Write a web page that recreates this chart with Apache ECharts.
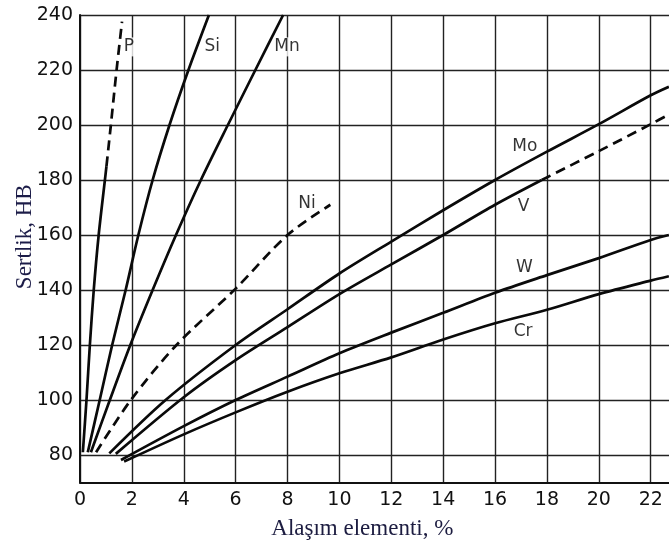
<!DOCTYPE html>
<html><head><meta charset="utf-8">
<script src="https://cdn.jsdelivr.net/npm/echarts@6/dist/echarts.min.js"></script>
<style>html,body{margin:0;padding:0;background:#fff}#c{width:669px;height:545px}</style>
</head><body><div id="c"></div>
<script>
// axis ticks
const xTicks = [0,2,4,6,8,10,12,14,16,18,20,22,24];
const yTicks = [80,100,120,140,160,180,200,220,240];

// curves (alloying element %, hardness HB)
const pSolidX = [0.11,0.25,0.38,0.53,0.72,0.96,1.02];
const pSolidY = [81,100,120,140,160,180,185];
const pDashX  = [1.02,1.19,1.41,1.62];
const pDashY  = [185,200,220,237.6];

const siX = [0.30,0.76,1.24,1.76,2.25,2.80,3.45,4.18,4.97];
const siY = [81,100,120,140,160,180,200,220,240];

const mnX = [0.42,1.15,1.94,2.80,3.70,4.66,5.70,6.76,7.83];
const mnY = [81,100,120,140,160,180,200,220,240];

const niX = [0.62,1.96,3.72,6.00,8.00,9.65];
const niY = [81,100,120,140.5,160,171];

const moX = [1.13,3.3,6,8,10,12,14,16,18,20,22,22.7];
const moY = [80.6,100,120,133,146,157.6,169,180,190.3,200.3,210.8,213.9];

const vSolidX = [1.38,4,6,8,10,12,14,16,17.8];
const vSolidY = [80.4,101,114.5,126.5,138.5,149.3,160,171,180];
const vDashX  = [17.8,20,22,22.7];
const vDashY  = [180,190.5,200.3,203.8];

const wX = [1.58,4,6,8,10,12,14,16,18,20,22,22.7];
const wY = [78.2,90.5,100,108.5,117,124.5,131.7,139,145.4,151.6,158.2,160];

const crX = [1.7,4,6,8,10,12,14,16,18,20,22,22.7];
const crY = [77.6,87.5,95.5,103,109.7,115.5,122,127.9,132.8,138.5,143.4,145];

// curve labels
const labelNames = ['P','Si','Mn','Ni','Mo','V','W','Cr'];
const labelX = [1.88,5.1,7.98,8.75,17.15,17.1,17.13,17.08];
const labelY = [228.4,228.4,228.4,171.3,192,170.2,148,125];

const zip = (xs, ys) => xs.map((x, i) => [x, ys[i]]);
const solid = {color:'#0a0a0a', width:2.7, type:'solid'};
const dashed = {color:'#0a0a0a', width:2.7, type:[10,6]};
function line(xs, ys, style){
  return {type:'line', data:zip(xs, ys), showSymbol:false, symbol:'none', smooth:0.3,
    lineStyle:style, silent:true, animation:false, clip:true};
}

const chart = echarts.init(document.getElementById('c'), null, {renderer:'canvas'});
chart.setOption({
  animation:false,
  grid:{left:80, right:-33.6, top:15, bottom:62.5, containLabel:false, outerBoundsMode:'none'},
  xAxis:{
    type:'value', min:0, max:24, interval:2,
    name:'Alaşım elementi, %', nameLocation:'middle', nameGap:35,
    nameTextStyle:{fontFamily:'Liberation Serif', fontSize:23, color:'#1c1c40', padding:[0,58,0,0]},
    axisLine:{show:true, lineStyle:{color:'#111', width:2}},
    axisTick:{show:false},
    axisLabel:{fontFamily:'DejaVu Sans', fontSize:19, color:'#111', margin:8,
      customValues:xTicks, formatter:v=>String(v)},
    splitLine:{show:true, lineStyle:{color:'#222', width:1.4}}
  },
  yAxis:{
    type:'value', min:70, max:240,
    name:'Sertlik, HB', nameLocation:'middle', nameGap:44, nameMoveOverlap:false,
    nameTextStyle:{fontFamily:'Liberation Serif', fontSize:23, color:'#1c1c48', padding:[0,0,0,24]},
    axisLine:{show:true, lineStyle:{color:'#111', width:2}},
    axisTick:{show:false, customValues:yTicks},
    axisLabel:{fontFamily:'DejaVu Sans', fontSize:19, color:'#111', margin:7,
      customValues:yTicks, formatter:v=>String(v)},
    splitLine:{show:true, lineStyle:{color:'#222', width:1.4}}
  },
  series:[
    line(pSolidX, pSolidY, solid),
    line(pDashX, pDashY, dashed),
    line(siX, siY, solid),
    line(mnX, mnY, solid),
    line(niX, niY, dashed),
    line(moX, moY, solid),
    line(vSolidX, vSolidY, solid),
    line(vDashX, vDashY, dashed),
    line(wX, wY, solid),
    line(crX, crY, solid),
    {type:'scatter', symbolSize:0, silent:true,
     data:labelNames.map((n,i)=>({name:n, value:[labelX[i], labelY[i]]})),
     label:{show:true, position:'inside', formatter:'{b}', fontFamily:'DejaVu Sans',
       fontSize:17, color:'#000', backgroundColor:'#fff', padding:[1,1]}}
  ]
});
</script></body></html>
